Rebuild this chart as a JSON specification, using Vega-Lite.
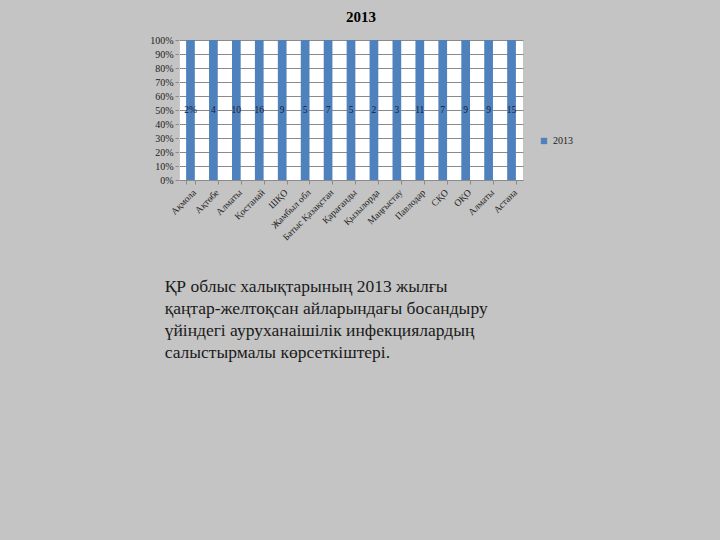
{
  "$schema": "https://vega.github.io/schema/vega-lite/v6.json",
  "background": "#c4c4c4",
  "padding": {"left": 149, "top": 10, "right": 149, "bottom": 183},
  "config": {"font": "Liberation Serif", "view": {"fill": "white", "stroke": null}},
  "title": {
    "text": ["ҚР облыс халықтарының 2013 жылғы", "қаңтар-желтоқсан айларындағы босандыру", "үйіндегі ауруханаішілік инфекциялардың", "салыстырмалы көрсеткіштері."],
    "orient": "bottom", "anchor": "start", "fontSize": 17.5, "fontWeight": "normal",
    "font": "Liberation Serif", "color": "#1a1a1a", "lineHeight": 22, "offset": 37, "dx": 15
  },
  "vconcat": [
    {
      "width": 344,
      "height": 140,
      "title": {"text": "2013", "fontSize": 15, "font": "Liberation Serif", "fontWeight": "bold", "color": "#000000", "offset": 10, "dx": 10},
      "data": {"values": [
        {"region": "Ақмола", "value": 2, "label": "2%"},
        {"region": "Ақтөбе", "value": 4, "label": "4"},
        {"region": "Алматы", "value": 10, "label": "10"},
        {"region": "Қостанай", "value": 16, "label": "16"},
        {"region": "ШҚО", "value": 9, "label": "9"},
        {"region": "Жамбыл обл", "value": 5, "label": "5"},
        {"region": "Батыс Қазақстан", "value": 7, "label": "7"},
        {"region": "Қарағанды", "value": 5, "label": "5"},
        {"region": "Қызылорда", "value": 2, "label": "2"},
        {"region": "Маңғыстау", "value": 3, "label": "3"},
        {"region": "Павлодар", "value": 11, "label": "11"},
        {"region": "СҚО", "value": 7, "label": "7"},
        {"region": "ОҚО", "value": 9, "label": "9"},
        {"region": "Алматы ", "value": 9, "label": "9"},
        {"region": "Астана", "value": 15, "label": "15"}
      ]},
      "encoding": {
        "x": {
          "field": "region", "type": "nominal", "sort": null,
          "scale": {"paddingInner": 0.62, "paddingOuter": 0.31},
          "axis": {"title": null, "labelAngle": -45, "labelFontSize": 9.5, "labelColor": "#222222", "labelPadding": 3,
                   "tickBand": "extent", "tickSize": 4, "tickColor": "#8a8a8a", "domainColor": "#8a8a8a", "grid": false}
        }
      },
      "layer": [
        {
          "mark": {"type": "bar"},
          "encoding": {
            "y": {"field": "value", "type": "quantitative", "stack": "normalize",
                  "axis": {"title": null, "format": ".0%", "values": [0, 0.1, 0.2, 0.3, 0.4, 0.5, 0.6, 0.7, 0.8, 0.9, 1],
                           "labelOverlap": false, "labelFontSize": 10, "labelColor": "#222222", "tickSize": 4, "tickColor": "#8a8a8a",
                           "domainColor": "#d0c8c8", "grid": true, "gridColor": "#8a8a8a", "gridWidth": 1}},
            "color": {"datum": "2013", "scale": {"range": ["#4F81BD"]},
                      "legend": {"title": null, "orient": "none", "legendX": 360, "legendY": 96, "symbolType": "square",
                                 "symbolSize": 40, "labelFontSize": 10, "labelColor": "#222222"}}
          }
        },
        {
          "mark": {"type": "text", "fontSize": 9.5, "color": "#1a1a33"},
          "encoding": {
            "y": {"datum": 0.5,
                  "axis": {"title": null, "format": ".0%", "values": [0, 0.1, 0.2, 0.3, 0.4, 0.5, 0.6, 0.7, 0.8, 0.9, 1],
                           "labelOverlap": false, "labelFontSize": 10, "labelColor": "#222222", "tickSize": 4, "tickColor": "#8a8a8a",
                           "domainColor": "#d0c8c8", "grid": true, "gridColor": "#8a8a8a", "gridWidth": 1}},
            "text": {"field": "label"}
          }
        }
      ]
    }
  ]
}
